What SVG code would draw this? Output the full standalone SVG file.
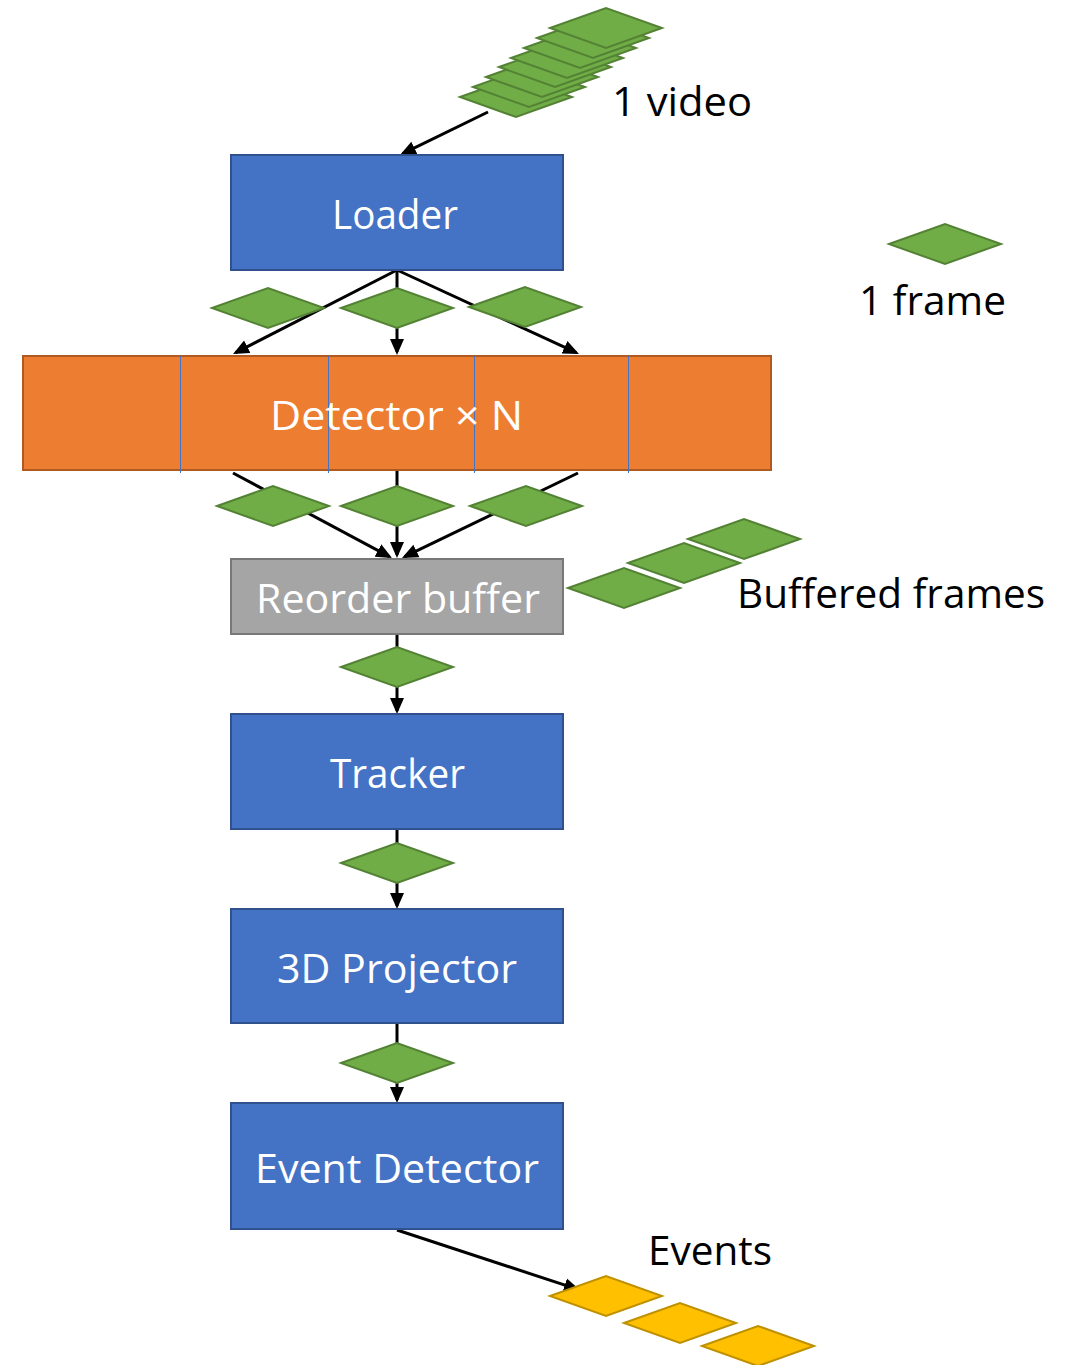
<svg xmlns="http://www.w3.org/2000/svg" xmlns:xlink="http://www.w3.org/1999/xlink" width="1071" height="1365" viewBox="0 0 1071 1365">
<style>
  .box { fill: #4472C4; stroke: #2F528F; stroke-width: 2; }
  .det { fill: #ED7D31; stroke: #AE5A21; stroke-width: 2; }
  .gray { fill: #A5A5A5; stroke: #787878; stroke-width: 2; }
  .sep { stroke: #4472C4; stroke-width: 1; }
  .green { fill: #70AD47; stroke: #548235; stroke-width: 2; }
  .yellow { fill: #FFC000; stroke: #BF9000; stroke-width: 2; }
  .conn { stroke: #000; stroke-width: 3; fill: none; marker-end: url(#arrow); }
  .wt { fill: #FFFFFF; font-family: "Open Sans", "Noto Sans", "Liberation Sans", sans-serif; font-size: 41px; }
  .bt { fill: #000000; font-family: "Open Sans", "Noto Sans", "Liberation Sans", sans-serif; font-size: 41px; }
</style>
<defs>
  <marker id="arrow" markerUnits="userSpaceOnUse" markerWidth="16" markerHeight="16" viewBox="0 0 16 16" refX="13" refY="8" orient="auto">
    <path d="M0,1 L16,8 L0,15 Z" fill="#000"/>
  </marker>
  <path id="dia" d="M-56,0 L0,-20 L56,0 L0,20 Z"/>
</defs>

<rect width="1071" height="1365" fill="#FFFFFF"/>

<g id="video">
  <use xlink:href="#dia" class="green" x="516" y="97"/>
  <use xlink:href="#dia" class="green" x="529" y="87"/>
  <use xlink:href="#dia" class="green" x="542" y="77"/>
  <use xlink:href="#dia" class="green" x="555" y="67"/>
  <use xlink:href="#dia" class="green" x="567" y="58"/>
  <use xlink:href="#dia" class="green" x="580" y="48"/>
  <use xlink:href="#dia" class="green" x="593" y="38"/>
  <use xlink:href="#dia" class="green" x="606" y="28"/>
  <text class="bt" x="612" y="116" textLength="140" lengthAdjust="spacingAndGlyphs">1 video</text>
</g>

<g id="legend">
  <use xlink:href="#dia" class="green" x="945" y="244"/>
  <text class="bt" x="859" y="315" textLength="147" lengthAdjust="spacingAndGlyphs">1 frame</text>
</g>

<g id="connectors">
  <line class="conn" x1="488" y1="112" x2="402.7" y2="153.7"/>
  <line class="conn" x1="397" y1="270" x2="235.7" y2="352.6"/>
  <line class="conn" x1="397" y1="270" x2="397" y2="352"/>
  <line class="conn" x1="397" y1="270" x2="576.3" y2="352.7"/>
  <line class="conn" x1="233" y1="473" x2="389.4" y2="556.6"/>
  <line class="conn" x1="397" y1="471" x2="397" y2="555"/>
  <line class="conn" x1="578" y1="473" x2="404.7" y2="556.7"/>
  <line class="conn" x1="397" y1="635" x2="397" y2="711"/>
  <line class="conn" x1="397" y1="830" x2="397" y2="906"/>
  <line class="conn" x1="397" y1="1024" x2="397" y2="1100"/>
  <line class="conn" x1="397" y1="1230" x2="577.1" y2="1289.1"/>
</g>

<g id="frames">
  <use xlink:href="#dia" class="green" x="268" y="308"/>
  <use xlink:href="#dia" class="green" x="397" y="308"/>
  <use xlink:href="#dia" class="green" x="525" y="307"/>
  <use xlink:href="#dia" class="green" x="273" y="506"/>
  <use xlink:href="#dia" class="green" x="397" y="506"/>
  <use xlink:href="#dia" class="green" x="526" y="506"/>
  <use xlink:href="#dia" class="green" x="397" y="667"/>
  <use xlink:href="#dia" class="green" x="397" y="863"/>
  <use xlink:href="#dia" class="green" x="397" y="1063"/>
</g>

<g id="loader">
  <rect class="box" x="231" y="155" width="332" height="115"/>
  <text class="wt" x="332" y="229" textLength="126" lengthAdjust="spacingAndGlyphs">Loader</text>
</g>

<g id="detector">
  <rect class="det" x="23" y="356" width="748" height="114"/>
  <line class="sep" x1="180.5" y1="356" x2="180.5" y2="473"/>
  <line class="sep" x1="328.5" y1="356" x2="328.5" y2="473"/>
  <line class="sep" x1="474.5" y1="356" x2="474.5" y2="473"/>
  <line class="sep" x1="628.5" y1="356" x2="628.5" y2="473"/>
  <text class="wt" x="270" y="430" textLength="253" lengthAdjust="spacingAndGlyphs">Detector × N</text>
</g>

<g id="reorder">
  <rect class="gray" x="231" y="559" width="332" height="75"/>
  <text class="wt" x="256" y="613" textLength="284" lengthAdjust="spacingAndGlyphs">Reorder buffer</text>
</g>

<g id="buffered">
  <use xlink:href="#dia" class="green" x="624" y="588"/>
  <use xlink:href="#dia" class="green" x="684" y="563"/>
  <use xlink:href="#dia" class="green" x="744" y="539"/>
  <text class="bt" x="737" y="608" textLength="308" lengthAdjust="spacingAndGlyphs">Buffered frames</text>
</g>

<g id="tracker">
  <rect class="box" x="231" y="714" width="332" height="115"/>
  <text class="wt" x="330" y="788" textLength="135" lengthAdjust="spacingAndGlyphs">Tracker</text>
</g>

<g id="projector">
  <rect class="box" x="231" y="909" width="332" height="114"/>
  <text class="wt" x="277" y="983" textLength="240" lengthAdjust="spacingAndGlyphs">3D Projector</text>
</g>

<g id="event-detector">
  <rect class="box" x="231" y="1103" width="332" height="126"/>
  <text class="wt" x="255" y="1183" textLength="284" lengthAdjust="spacingAndGlyphs">Event Detector</text>
</g>

<g id="events">
  <use xlink:href="#dia" class="yellow" x="606" y="1296"/>
  <use xlink:href="#dia" class="yellow" x="680" y="1323"/>
  <use xlink:href="#dia" class="yellow" x="758" y="1346"/>
  <text class="bt" x="648" y="1265" textLength="124" lengthAdjust="spacingAndGlyphs">Events</text>
</g>
</svg>
